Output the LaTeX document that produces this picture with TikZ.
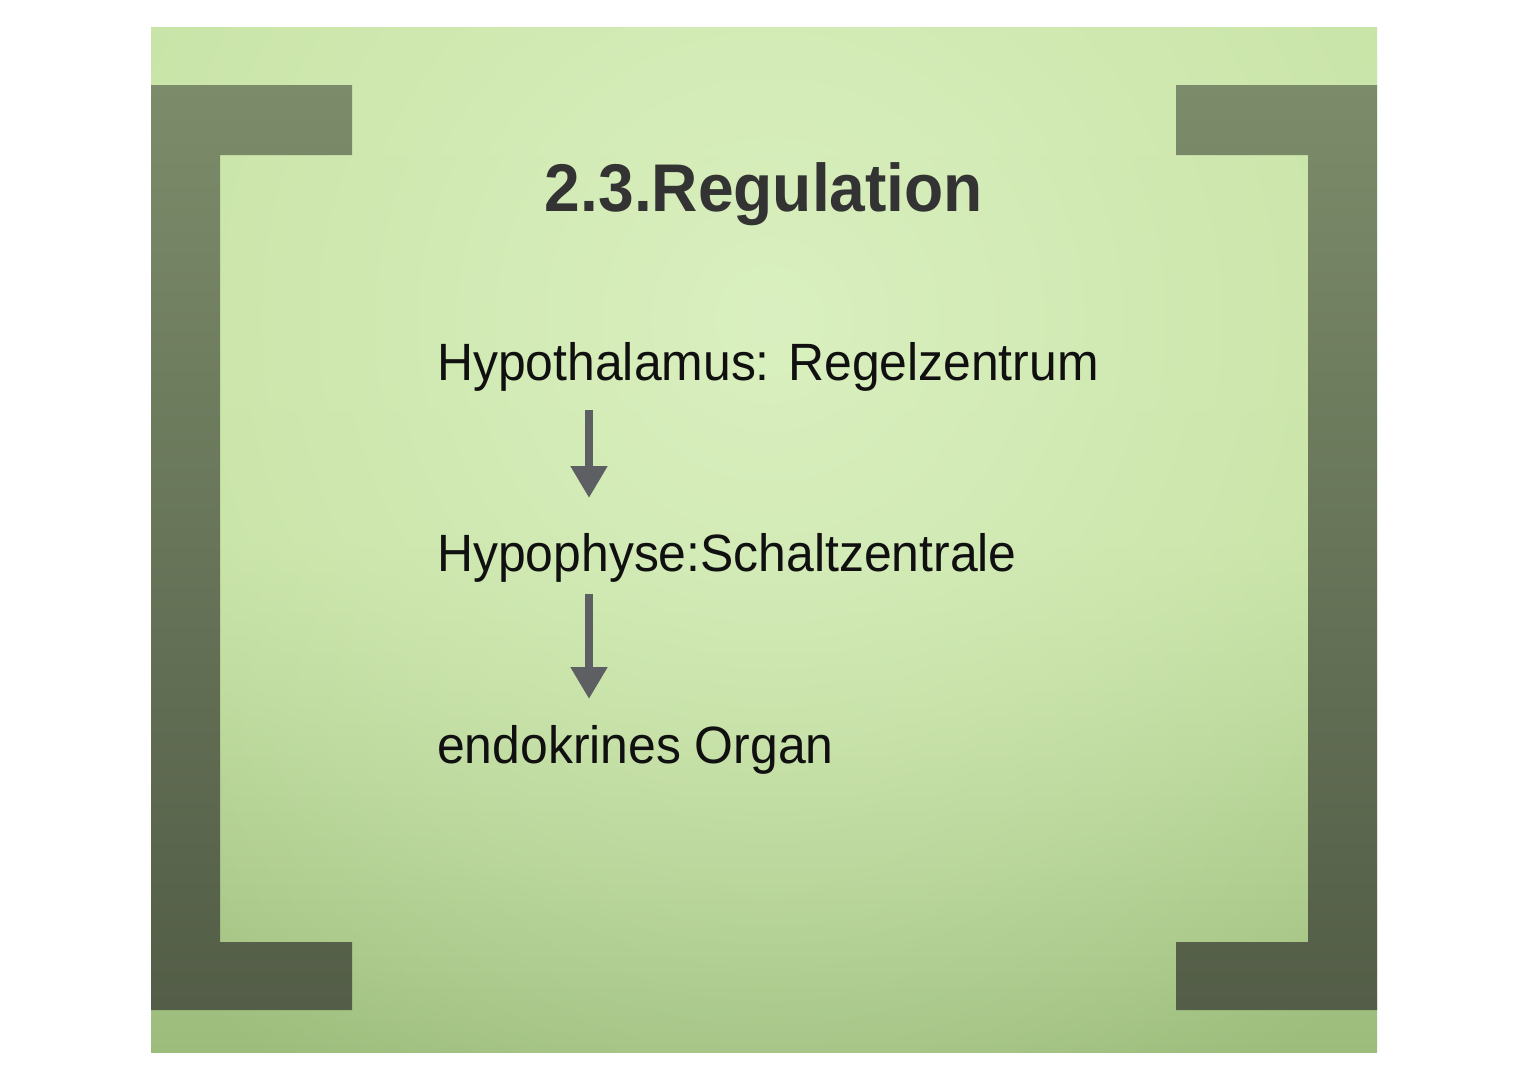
\documentclass[tikz,border=0pt]{standalone}
\usepackage{fontspec}
\setmainfont{Liberation Sans}[FakeStretch=0.95]
\usetikzlibrary{arrows.meta,fadings}
\tikzfading[name=glow, inner color=transparent!0, outer color=transparent!100]
\definecolor{bgtop}{HTML}{C4E1A0}
\definecolor{bgmid}{HTML}{C2DF9E}
\definecolor{bgbot}{HTML}{9BBC7B}
\definecolor{glowc}{HTML}{DAF0C0}
\definecolor{brtop}{HTML}{7C8C6A}
\definecolor{brbot}{HTML}{535D47}
\definecolor{arrc}{HTML}{5E5F62}
\definecolor{titlec}{HTML}{333333}
\definecolor{bodyc}{HTML}{101010}
\tikzset{
  bodytext/.style={anchor=base west, inner sep=0pt, text=bodyc, font=\fontsize{52.5}{60}\selectfont},
  titletext/.style={anchor=base, inner sep=0pt, text=titlec, font=\fontsize{67.5}{76}\selectfont\bfseries},
  flowarrow/.style={draw=arrc, line width=8pt, -{Triangle[width=35pt,length=32pt]}},
}
\begin{document}
\begin{tikzpicture}[x=1pt,y=-1pt]
\useasboundingbox (0,0) rectangle (1528,1080);
\fill[white] (0,0) rectangle (1528,1080);
% slide background
\begin{scope}
\clip (151,27) rectangle (1377,1052);
\shade[top color=bgtop, bottom color=bgbot, middle color=bgmid] (151,27) rectangle (1377,1052);
\fill[glowc, path fading=glow, fit fading=true] (770,320) circle (900);
\end{scope}
% brackets
\shade[top color=brtop, bottom color=brbot]
  (151,85) -- (352,85) -- (352,155) -- (220,155) -- (220,942) -- (352,942) -- (352,1010) -- (151,1010) -- cycle
  (1377,85) -- (1176,85) -- (1176,155) -- (1308,155) -- (1308,942) -- (1176,942) -- (1176,1010) -- (1377,1010) -- cycle;
% texts
\node[titletext] (title) at (764,211) {2.3.Regulation};
\node[bodytext] (hypo) at (437,380) {Hypothalamus: Regelzentrum};
\node[bodytext] (hyph) at (437,571) {Hypophyse:Schaltzentrale};
\node[bodytext] (organ) at (437,763) {endokrines Organ};
% arrows
\coordinate (a1s) at (589,410);
\coordinate (a1e) at (589,498);
\coordinate (a2s) at (589,594);
\coordinate (a2e) at (589,699);
\draw[flowarrow] (a1s) -- (a1e);
\draw[flowarrow] (a2s) -- (a2e);
\end{tikzpicture}
\end{document}
